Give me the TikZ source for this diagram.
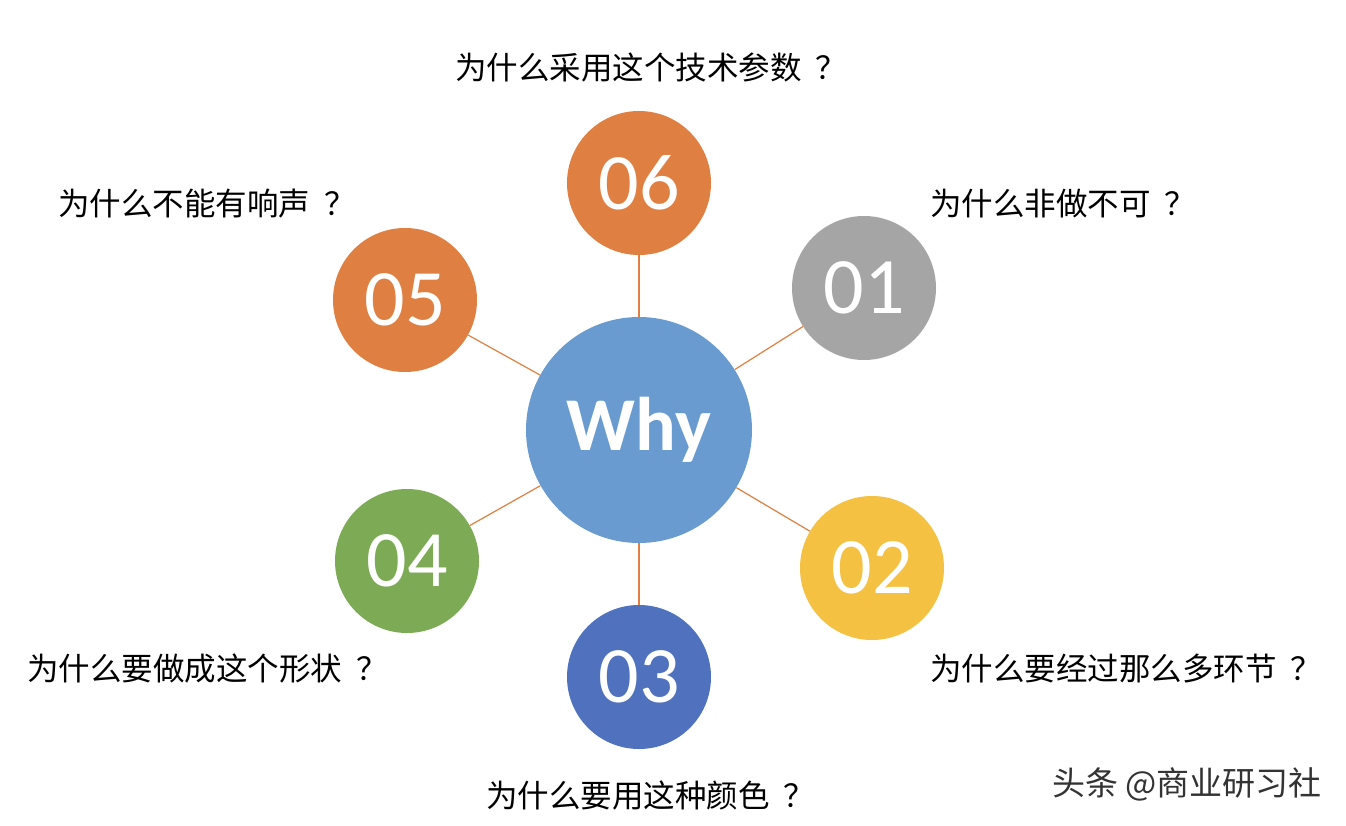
\documentclass[tikz,border=0pt]{standalone}
\usepackage{fontspec}
\setmainfont{Carlito}
\newfontfamily\cjk{Noto Sans CJK SC}
\definecolor{corange}{HTML}{E07F42}
\definecolor{cgrey}{HTML}{A5A5A5}
\definecolor{cyellow}{HTML}{F4C142}
\definecolor{cblue}{HTML}{4F71BE}
\definecolor{cgreen}{HTML}{7DAB55}
\definecolor{cwhy}{HTML}{6A9BD0}
\newcommand{\qm}{\hspace{0.45em}？}
\begin{document}
\begin{tikzpicture}[x=1pt,y=-1pt,
  num/.style={circle,minimum size=144pt,inner sep=0pt,text=white,font=\fontsize{80}{80}\selectfont},
  lab/.style={font=\cjk\fontsize{31.5}{33}\selectfont,inner sep=0pt},
  conn/.style={draw=corange,line width=1.2pt}]
\useasboundingbox (0,0) rectangle (1346,826);
\fill[white] (0,0) rectangle (1346,826);
\node[circle,minimum size=226pt,inner sep=0pt,fill=cwhy,text=white,font=\bfseries\fontsize{76}{76}\selectfont] (why) at (639,430) {Why};
\node[num,fill=corange] (n6) at (639,183) {06};
\node[num,fill=cgrey] (n1) at (864,288) {01};
\node[num,fill=cyellow] (n2) at (872,568) {02};
\node[num,fill=cblue] (n3) at (639,677) {03};
\node[num,fill=cgreen] (n4) at (407,561) {04};
\node[num,fill=corange] (n5) at (405,300) {05};
\foreach \n in {n1,n2,n3,n4,n5,n6} \draw[conn] (why) -- (\n);
\node[lab,anchor=west] (l6) at (455,68) {为什么采用这个技术参数\qm};
\node[lab,anchor=west] (l5) at (58,204) {为什么不能有响声\qm};
\node[lab,anchor=west] (l1) at (930,204) {为什么非做不可\qm};
\node[lab,anchor=west] (l4) at (27,669) {为什么要做成这个形状\qm};
\node[lab,anchor=west] (l2) at (930,669) {为什么要经过那么多环节\qm};
\node[lab,anchor=west] (l3) at (486,796) {为什么要用这种颜色\qm};
\node[lab,anchor=east,text=black!80,font=\cjk\fontsize{33}{34}\selectfont] (wm) at (1322,784) {头条 @商业研习社};
\end{tikzpicture}
\end{document}
